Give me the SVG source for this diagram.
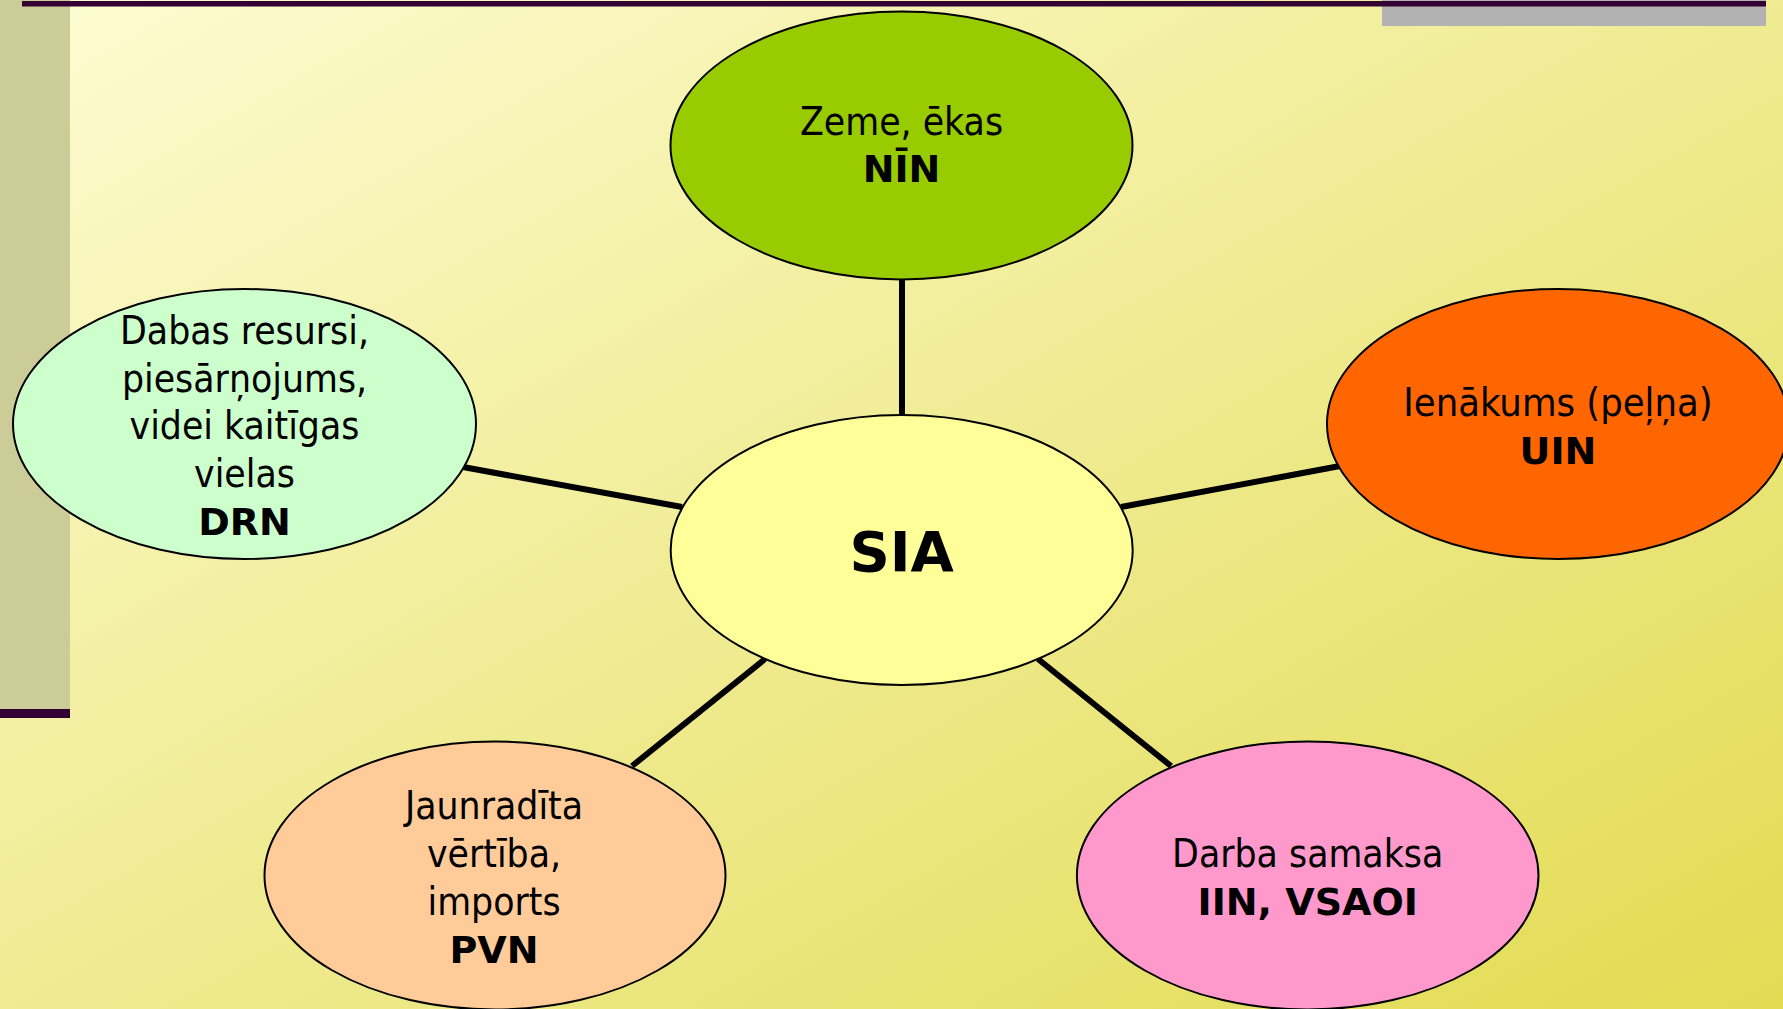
<svg xmlns="http://www.w3.org/2000/svg" width="1783" height="1009" viewBox="0 0 1783 1009">
<defs>
<linearGradient id="bg" x1="0" y1="0" x2="1" y2="1">
<stop offset="0" stop-color="#FDFCD3"/>
<stop offset="1" stop-color="#E2DB52"/>
</linearGradient>
</defs>
<style>
.node ellipse{stroke:#000;stroke-width:2}
.t{font-family:"DejaVu Sans Condensed","DejaVu Sans",sans-serif;font-size:38.7px;fill:#000;text-anchor:middle}
.b{font-family:"DejaVu Sans",sans-serif;font-weight:bold;font-size:38px}
.conn line{stroke:#000;stroke-width:6}
</style>
<rect x="0" y="0" width="1783" height="1009" fill="url(#bg)"/>
<rect x="0" y="0" width="70" height="709" fill="#CCCC99"/>
<rect x="0" y="709" width="70" height="9" fill="#330033"/>
<rect x="1382" y="0" width="384" height="26" fill="#B2B2B2"/>
<rect x="22" y="1" width="1744" height="5.5" fill="#330033"/>
<g class="conn" id="connectors">
<line x1="902" y1="279" x2="902" y2="416"/>
<line x1="463" y1="467" x2="682" y2="507"/>
<line x1="1121" y1="507" x2="1340" y2="466"/>
<line x1="765" y1="659" x2="632" y2="766"/>
<line x1="1038" y1="659" x2="1171" y2="766"/>
</g>
<g class="node" id="node-nin">
<ellipse cx="901.5" cy="145.5" rx="231" ry="134" fill="#99CC00"/>
<text class="t" x="901.5" y="135">Zeme, ēkas</text>
<text class="t b" x="901.5" y="182">NĪN</text>
</g>
<g class="node" id="node-drn">
<ellipse cx="244.5" cy="424" rx="231.5" ry="135" fill="#CCFFCC"/>
<text class="t" x="244.5" y="344">Dabas resursi,</text>
<text class="t" x="244.5" y="391.7">piesārņojums,</text>
<text class="t" x="244.5" y="439.3">videi kaitīgas</text>
<text class="t" x="244.5" y="487">vielas</text>
<text class="t b" x="244.5" y="535">DRN</text>
</g>
<g class="node" id="node-uin">
<ellipse cx="1558" cy="424" rx="231" ry="135" fill="#FF6600"/>
<text class="t" x="1558" y="416" style="font-size:39.5px">Ienākums (peļņa)</text>
<text class="t b" x="1558" y="464">UIN</text>
</g>
<g class="node" id="node-sia">
<ellipse cx="901.7" cy="550" rx="231" ry="135" fill="#FFFF99"/>
<text class="t b" x="901.7" y="570.7" style="font-size:56px">SIA</text>
</g>
<g class="node" id="node-pvn">
<ellipse cx="495" cy="875.5" rx="230.5" ry="134" fill="#FFCC99"/>
<text class="t" x="494" y="819.3">Jaunradīta</text>
<text class="t" x="494" y="866.7">vērtība,</text>
<text class="t" x="494" y="914.5">imports</text>
<text class="t b" x="494" y="963">PVN</text>
</g>
<g class="node" id="node-iin">
<ellipse cx="1307.7" cy="875.5" rx="230.8" ry="134" fill="#FF99CC"/>
<text class="t" x="1307.7" y="866.7">Darba samaksa</text>
<text class="t b" x="1307.7" y="915">IIN, VSAOI</text>
</g>
</svg>
